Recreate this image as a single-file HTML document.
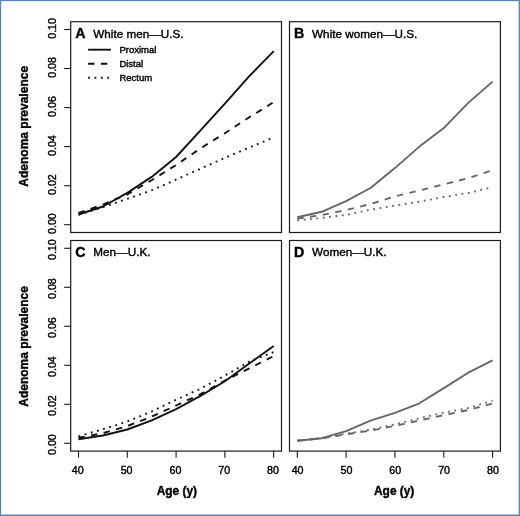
<!DOCTYPE html>
<html><head><meta charset="utf-8"><style>
html,body{margin:0;padding:0;background:#fff;}
body{width:520px;height:516px;overflow:hidden;position:relative;}
svg{position:absolute;left:0;top:0;will-change:transform;}
text{font-family:"Liberation Sans",sans-serif;fill:#000;}
</style></head><body>
<svg width="520" height="516" viewBox="0 0 520 516">
<rect x="0" y="0" width="520" height="516" fill="#fff"/>
<polyline points="78.5,214.9 102.9,207.1 127.3,198.9 151.7,190.3 176.1,179.6 200.5,168.7 224.9,157.9 249.3,147.6 273.7,137.4" fill="none" stroke="#111" stroke-width="1.9" stroke-linejoin="round" stroke-dasharray="1.8 4.6"/>
<polyline points="78.5,213.0 102.9,204.6 127.3,194.4 151.7,180.2 176.1,165.0 200.5,148.4 224.9,133.2 249.3,117.3 273.7,102.1" fill="none" stroke="#111" stroke-width="1.9" stroke-linejoin="round" stroke-dasharray="6.4 6.4"/>
<polyline points="78.5,214.5 102.9,206.5 127.3,192.9 151.7,176.9 176.1,157.0 200.5,130.4 224.9,103.7 249.3,76.2 273.7,51.2" fill="none" stroke="#111" stroke-width="1.9" stroke-linejoin="round" />
<rect x="70.7" y="21.7" width="210.8" height="210.8" fill="none" stroke="#1a1a1a" stroke-width="1.2"/>
<text x="75.3" y="37.7" font-size="14.2" font-weight="bold" stroke="#000" stroke-width="0.4">A</text>
<text x="93.3" y="37.6" font-size="11.7" stroke="#000" stroke-width="0.4">White men—U.S.</text>
<line x1="64.1" x2="70.7" y1="224.7" y2="224.7" stroke="#1a1a1a" stroke-width="1.1"/>
<text transform="translate(55.9,223.6) rotate(-90)" text-anchor="middle" font-size="10.7" stroke="#000" stroke-width="0.4">0.00</text>
<line x1="64.1" x2="70.7" y1="185.7" y2="185.7" stroke="#1a1a1a" stroke-width="1.1"/>
<text transform="translate(55.9,184.6) rotate(-90)" text-anchor="middle" font-size="10.7" stroke="#000" stroke-width="0.4">0.02</text>
<line x1="64.1" x2="70.7" y1="146.6" y2="146.6" stroke="#1a1a1a" stroke-width="1.1"/>
<text transform="translate(55.9,145.5) rotate(-90)" text-anchor="middle" font-size="10.7" stroke="#000" stroke-width="0.4">0.04</text>
<line x1="64.1" x2="70.7" y1="107.6" y2="107.6" stroke="#1a1a1a" stroke-width="1.1"/>
<text transform="translate(55.9,106.5) rotate(-90)" text-anchor="middle" font-size="10.7" stroke="#000" stroke-width="0.4">0.06</text>
<line x1="64.1" x2="70.7" y1="68.5" y2="68.5" stroke="#1a1a1a" stroke-width="1.1"/>
<text transform="translate(55.9,67.4) rotate(-90)" text-anchor="middle" font-size="10.7" stroke="#000" stroke-width="0.4">0.08</text>
<line x1="64.1" x2="70.7" y1="29.5" y2="29.5" stroke="#1a1a1a" stroke-width="1.1"/>
<text transform="translate(55.9,28.4) rotate(-90)" text-anchor="middle" font-size="10.7" stroke="#000" stroke-width="0.4">0.10</text>
<text transform="translate(28.0,126.3) rotate(-90)" text-anchor="middle" font-size="12" font-weight="bold" stroke="#000" stroke-width="0.4">Adenoma prevalence</text>
<polyline points="297.3,220.4 321.7,217.9 346.1,214.9 370.5,209.7 394.9,205.6 419.4,201.7 443.8,197.0 468.2,193.1 492.6,187.2" fill="none" stroke="#666" stroke-width="1.9" stroke-linejoin="round" stroke-dasharray="1.8 4.6"/>
<polyline points="297.3,218.6 321.7,215.1 346.1,210.1 370.5,204.0 394.9,196.4 419.4,190.5 443.8,184.3 468.2,178.2 492.6,170.2" fill="none" stroke="#666" stroke-width="1.9" stroke-linejoin="round" stroke-dasharray="6.4 6.4"/>
<polyline points="297.3,217.3 321.7,211.8 346.1,201.1 370.5,188.0 394.9,168.1 419.4,146.6 443.8,128.1 468.2,102.9 492.6,81.6" fill="none" stroke="#666" stroke-width="1.9" stroke-linejoin="round" />
<rect x="289.5" y="21.7" width="210.9" height="210.8" fill="none" stroke="#1a1a1a" stroke-width="1.2"/>
<text x="294.1" y="37.7" font-size="14.2" font-weight="bold" stroke="#000" stroke-width="0.4">B</text>
<text x="312.1" y="37.6" font-size="11.7" stroke="#000" stroke-width="0.4">White women—U.S.</text>
<polyline points="78.5,436.3 102.9,429.3 127.3,421.5 151.7,411.5 176.1,399.8 200.5,388.7 224.9,375.6 249.3,361.6 273.7,352.0" fill="none" stroke="#111" stroke-width="1.9" stroke-linejoin="round" stroke-dasharray="1.8 4.6"/>
<polyline points="78.5,437.8 102.9,433.2 127.3,426.1 151.7,416.6 176.1,405.5 200.5,394.2 224.9,380.5 249.3,368.4 273.7,356.1" fill="none" stroke="#111" stroke-width="1.9" stroke-linejoin="round" stroke-dasharray="6.4 6.4"/>
<polyline points="78.5,439.2 102.9,435.5 127.3,429.5 151.7,420.3 176.1,409.2 200.5,395.9 224.9,381.3 249.3,363.4 273.7,346.0" fill="none" stroke="#111" stroke-width="1.9" stroke-linejoin="round" />
<rect x="70.7" y="240.5" width="210.8" height="210.6" fill="none" stroke="#1a1a1a" stroke-width="1.2"/>
<text x="75.3" y="256.5" font-size="14.2" font-weight="bold" stroke="#000" stroke-width="0.4">C</text>
<text x="93.3" y="256.4" font-size="11.7" stroke="#000" stroke-width="0.4">Men—U.K.</text>
<line x1="64.1" x2="70.7" y1="443.3" y2="443.3" stroke="#1a1a1a" stroke-width="1.1"/>
<text transform="translate(55.9,444.6) rotate(-90)" text-anchor="middle" font-size="10.7" stroke="#000" stroke-width="0.4">0.00</text>
<line x1="64.1" x2="70.7" y1="404.3" y2="404.3" stroke="#1a1a1a" stroke-width="1.1"/>
<text transform="translate(55.9,405.6) rotate(-90)" text-anchor="middle" font-size="10.7" stroke="#000" stroke-width="0.4">0.02</text>
<line x1="64.1" x2="70.7" y1="365.3" y2="365.3" stroke="#1a1a1a" stroke-width="1.1"/>
<text transform="translate(55.9,366.6) rotate(-90)" text-anchor="middle" font-size="10.7" stroke="#000" stroke-width="0.4">0.04</text>
<line x1="64.1" x2="70.7" y1="326.3" y2="326.3" stroke="#1a1a1a" stroke-width="1.1"/>
<text transform="translate(55.9,327.6) rotate(-90)" text-anchor="middle" font-size="10.7" stroke="#000" stroke-width="0.4">0.06</text>
<line x1="64.1" x2="70.7" y1="287.3" y2="287.3" stroke="#1a1a1a" stroke-width="1.1"/>
<text transform="translate(55.9,288.6) rotate(-90)" text-anchor="middle" font-size="10.7" stroke="#000" stroke-width="0.4">0.08</text>
<line x1="64.1" x2="70.7" y1="248.3" y2="248.3" stroke="#1a1a1a" stroke-width="1.1"/>
<text transform="translate(55.9,249.6) rotate(-90)" text-anchor="middle" font-size="10.7" stroke="#000" stroke-width="0.4">0.10</text>
<text transform="translate(28.0,346.4) rotate(-90)" text-anchor="middle" font-size="12" font-weight="bold" stroke="#000" stroke-width="0.4">Adenoma prevalence</text>
<line x1="78.5" x2="78.5" y1="451.1" y2="457.7" stroke="#1a1a1a" stroke-width="1.1"/>
<text x="77.8" y="474.2" text-anchor="middle" font-size="10.7" stroke="#000" stroke-width="0.4">40</text>
<line x1="127.3" x2="127.3" y1="451.1" y2="457.7" stroke="#1a1a1a" stroke-width="1.1"/>
<text x="126.6" y="474.2" text-anchor="middle" font-size="10.7" stroke="#000" stroke-width="0.4">50</text>
<line x1="176.1" x2="176.1" y1="451.1" y2="457.7" stroke="#1a1a1a" stroke-width="1.1"/>
<text x="175.4" y="474.2" text-anchor="middle" font-size="10.7" stroke="#000" stroke-width="0.4">60</text>
<line x1="224.9" x2="224.9" y1="451.1" y2="457.7" stroke="#1a1a1a" stroke-width="1.1"/>
<text x="224.2" y="474.2" text-anchor="middle" font-size="10.7" stroke="#000" stroke-width="0.4">70</text>
<line x1="273.7" x2="273.7" y1="451.1" y2="457.7" stroke="#1a1a1a" stroke-width="1.1"/>
<text x="273.0" y="474.2" text-anchor="middle" font-size="10.7" stroke="#000" stroke-width="0.4">80</text>
<text x="176.9" y="494.6" text-anchor="middle" font-size="11.9" font-weight="bold" stroke="#000" stroke-width="0.4">Age (y)</text>
<polyline points="297.3,440.6 321.7,438.0 346.1,433.7 370.5,429.7 394.9,424.4 419.4,418.3 443.8,412.7 468.2,408.0 492.6,400.6" fill="none" stroke="#666" stroke-width="1.9" stroke-linejoin="round" stroke-dasharray="1.8 4.6"/>
<polyline points="297.3,440.8 321.7,438.4 346.1,434.3 370.5,430.6 394.9,425.9 419.4,420.5 443.8,415.2 468.2,410.0 492.6,403.5" fill="none" stroke="#666" stroke-width="1.9" stroke-linejoin="round" stroke-dasharray="6.4 6.4"/>
<polyline points="297.3,440.8 321.7,438.2 346.1,431.2 370.5,420.7 394.9,412.9 419.4,403.3 443.8,388.1 468.2,372.7 492.6,360.4" fill="none" stroke="#666" stroke-width="1.9" stroke-linejoin="round" />
<rect x="289.5" y="240.5" width="210.9" height="210.6" fill="none" stroke="#1a1a1a" stroke-width="1.2"/>
<text x="294.1" y="256.5" font-size="14.2" font-weight="bold" stroke="#000" stroke-width="0.4">D</text>
<text x="312.1" y="256.4" font-size="11.7" stroke="#000" stroke-width="0.4">Women—U.K.</text>
<line x1="297.3" x2="297.3" y1="451.1" y2="457.7" stroke="#1a1a1a" stroke-width="1.1"/>
<text x="297.6" y="474.2" text-anchor="middle" font-size="10.7" stroke="#000" stroke-width="0.4">40</text>
<line x1="346.1" x2="346.1" y1="451.1" y2="457.7" stroke="#1a1a1a" stroke-width="1.1"/>
<text x="346.4" y="474.2" text-anchor="middle" font-size="10.7" stroke="#000" stroke-width="0.4">50</text>
<line x1="394.9" x2="394.9" y1="451.1" y2="457.7" stroke="#1a1a1a" stroke-width="1.1"/>
<text x="395.2" y="474.2" text-anchor="middle" font-size="10.7" stroke="#000" stroke-width="0.4">60</text>
<line x1="443.8" x2="443.8" y1="451.1" y2="457.7" stroke="#1a1a1a" stroke-width="1.1"/>
<text x="444.1" y="474.2" text-anchor="middle" font-size="10.7" stroke="#000" stroke-width="0.4">70</text>
<line x1="492.6" x2="492.6" y1="451.1" y2="457.7" stroke="#1a1a1a" stroke-width="1.1"/>
<text x="492.9" y="474.2" text-anchor="middle" font-size="10.7" stroke="#000" stroke-width="0.4">80</text>
<text x="394.2" y="494.6" text-anchor="middle" font-size="11.9" font-weight="bold" stroke="#000" stroke-width="0.4">Age (y)</text>
<line x1="88.1" x2="110.9" y1="49.7" y2="49.7" stroke="#111" stroke-width="1.9" />
<text x="119.4" y="52.6" font-size="9.5" stroke="#000" stroke-width="0.4">Proximal</text>
<line x1="88.1" x2="110.9" y1="63.7" y2="63.7" stroke="#111" stroke-width="1.9" stroke-dasharray="6.4 6.4"/>
<text x="119.4" y="66.6" font-size="9.5" stroke="#000" stroke-width="0.4">Distal</text>
<line x1="88.1" x2="110.9" y1="77.7" y2="77.7" stroke="#111" stroke-width="1.9" stroke-dasharray="1.8 4.6"/>
<text x="119.4" y="80.6" font-size="9.5" stroke="#000" stroke-width="0.4">Rectum</text>
<rect x="1.5" y="1.5" width="516.7" height="512.6" fill="none" stroke="#e2f8ff" stroke-width="1"/>
<rect x="0" y="0" width="520" height="1" fill="#5282ba"/>
<rect x="0" y="0" width="1.1" height="516" fill="#5a88b2"/>
<rect x="518.7" y="0" width="1.3" height="516" fill="#5a88b5"/>
<rect x="0" y="514.6" width="520" height="1.4" fill="#5282bd"/>
</svg>
</body></html>
